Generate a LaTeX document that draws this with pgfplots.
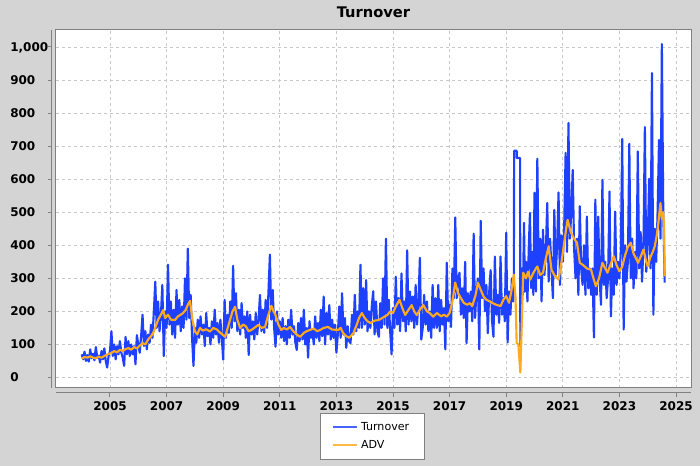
\documentclass[border=0pt]{standalone}
\usepackage{fontspec}
\setmainfont{DejaVu Sans}
\usepackage{pgfplots}
\pgfplotsset{compat=1.18}
\definecolor{bg}{RGB}{212,212,212}
\definecolor{tblue}{RGB}{30,64,255}
\definecolor{lblue}{RGB}{70,100,255}
\definecolor{advor}{RGB}{255,170,30}
\definecolor{lor}{RGB}{255,185,70}
\definecolor{axgray}{RGB}{128,128,128}
\definecolor{gridc}{RGB}{200,200,200}
\begin{document}
\begin{tikzpicture}
\fill[bg] (-42pt,-58.5pt) rectangle (483pt,291pt);
\begin{axis}[
  at={(0pt,0pt)}, anchor=south west,
  scale only axis, width=476.25pt, height=268.5pt,
  xmin=2003.092, xmax=2025.53, ymin=-31.8, ymax=1051.4,
  axis background/.style={fill=white},
  axis line style={axgray, line width=0.75pt},
  xtick={2005,2007,2009,2011,2013,2015,2017,2019,2021,2023,2025},
  ytick={0,100,200,300,400,500,600,700,800,900,1000},
  grid=major,
  major grid style={gridc, dash pattern=on 2.5pt off 2pt, line width=0.6pt},
  major tick length=0pt, tick style={draw=none},
  /pgf/number format/assume math mode=true,
  xticklabel style={font=\bfseries\fontsize{9}{10}\selectfont, anchor=north, inner sep=0pt, yshift=-9.75pt, /pgf/number format/1000 sep={}},
  yticklabel style={font=\bfseries\fontsize{9}{10}\selectfont, anchor=west, inner sep=0pt, xshift=-34.5pt, text depth=0pt, /pgf/number format/1000 sep={,}},
  title={Turnover},
  title style={font=\bfseries\fontsize{11}{13}\selectfont, at={(0.5,1)}, anchor=center, yshift=7.5pt, inner sep=0pt},
  legend style={at={(0.498,-0.0698)}, anchor=north, draw=axgray, fill=white, line width=0.5pt,
    font=\fontsize{8.3}{10}\selectfont, inner xsep=9.5pt, inner ysep=5pt, row sep=1.5pt,
    cells={anchor=west}, /tikz/every even column/.append style={column sep=4pt}},
  clip=false,
]
\addplot[tblue, line width=1.6pt, line join=round, legend image code/.code={\draw[lblue, line width=1.3pt] (0pt,0.4pt) -- (18pt,0.4pt);}] coordinates {
(2004.00,70) (2004.05,55) (2004.10,78) (2004.15,50) (2004.20,68) (2004.25,48) (2004.30,85) (2004.35,58) (2004.40,72) (2004.45,52) (2004.50,92) (2004.55,60) (2004.60,66) (2004.65,45) (2004.70,80) (2004.75,55) (2004.80,88) (2004.85,50) (2004.90,30) (2004.95,65)
(2005.00,80) (2005.05,140) (2005.10,65) (2005.15,100) (2005.20,55) (2005.25,95) (2005.30,70) (2005.35,110) (2005.40,75) (2005.45,60) (2005.50,35) (2005.55,123) (2005.60,70) (2005.65,110) (2005.70,65) (2005.75,100) (2005.80,70) (2005.85,95) (2005.90,40) (2005.95,128)
(2006.00,100) (2006.05,75) (2006.10,125) (2006.15,190) (2006.20,95) (2006.25,140) (2006.30,85) (2006.35,130) (2006.40,105) (2006.45,160) (2006.50,120) (2006.55,200) (2006.60,290) (2006.65,150) (2006.70,230) (2006.75,140) (2006.80,190) (2006.85,280) (2006.90,65) (2006.95,200)
(2007.00,150) (2007.05,341) (2007.10,160) (2007.15,230) (2007.20,130) (2007.25,205) (2007.30,120) (2007.35,265) (2007.40,160) (2007.45,235) (2007.50,140) (2007.55,215) (2007.60,150) (2007.65,300) (2007.70,175) (2007.75,390) (2007.80,180) (2007.85,250) (2007.90,120) (2007.95,35)
(2008.00,150) (2008.05,105) (2008.10,175) (2008.15,120) (2008.20,185) (2008.25,130) (2008.30,160) (2008.35,95) (2008.40,195) (2008.45,125) (2008.50,150) (2008.55,100) (2008.60,170) (2008.65,120) (2008.70,205) (2008.75,130) (2008.80,165) (2008.85,105) (2008.90,175) (2008.95,120)
(2009.00,54) (2009.05,235) (2009.10,120) (2009.15,190) (2009.20,135) (2009.25,230) (2009.30,150) (2009.35,338) (2009.40,170) (2009.45,255) (2009.50,140) (2009.55,205) (2009.60,130) (2009.65,225) (2009.70,150) (2009.75,185) (2009.80,120) (2009.85,200) (2009.90,68) (2009.95,190)
(2010.00,130) (2010.05,170) (2010.10,115) (2010.15,195) (2010.20,130) (2010.25,175) (2010.30,250) (2010.35,140) (2010.40,205) (2010.45,135) (2010.50,235) (2010.55,150) (2010.60,260) (2010.65,372) (2010.70,175) (2010.75,265) (2010.80,150) (2010.85,93) (2010.90,200) (2010.95,130)
(2011.00,170) (2011.05,120) (2011.10,180) (2011.15,110) (2011.20,155) (2011.25,100) (2011.30,175) (2011.35,120) (2011.40,205) (2011.45,130) (2011.50,155) (2011.55,105) (2011.60,83) (2011.65,165) (2011.70,110) (2011.75,180) (2011.80,115) (2011.85,205) (2011.90,100) (2011.95,150)
(2012.00,60) (2012.05,170) (2012.10,120) (2012.15,145) (2012.20,100) (2012.25,185) (2012.30,120) (2012.35,165) (2012.40,110) (2012.45,205) (2012.50,125) (2012.55,245) (2012.60,100) (2012.65,195) (2012.70,130) (2012.75,219) (2012.80,115) (2012.85,175) (2012.90,120) (2012.95,160)
(2013.00,75) (2013.05,130) (2013.10,215) (2013.15,120) (2013.20,255) (2013.25,130) (2013.30,180) (2013.35,90) (2013.40,155) (2013.45,110) (2013.50,104) (2013.55,190) (2013.60,130) (2013.65,250) (2013.70,140) (2013.75,200) (2013.80,150) (2013.85,341) (2013.90,150) (2013.95,270)
(2014.00,160) (2014.05,295) (2014.10,140) (2014.15,200) (2014.20,150) (2014.25,215) (2014.30,261) (2014.35,130) (2014.40,230) (2014.45,140) (2014.50,123) (2014.55,225) (2014.60,150) (2014.65,300) (2014.70,160) (2014.75,420) (2014.80,150) (2014.85,235) (2014.90,140) (2014.95,70)
(2015.00,210) (2015.05,150) (2015.10,305) (2015.15,160) (2015.20,240) (2015.25,140) (2015.30,315) (2015.35,170) (2015.40,230) (2015.45,140) (2015.50,385) (2015.55,160) (2015.60,260) (2015.65,170) (2015.70,245) (2015.75,150) (2015.80,280) (2015.85,160) (2015.90,230) (2015.95,362)
(2016.00,115) (2016.05,150) (2016.10,250) (2016.15,160) (2016.20,230) (2016.25,140) (2016.30,200) (2016.35,120) (2016.40,280) (2016.45,150) (2016.50,240) (2016.55,150) (2016.60,280) (2016.65,140) (2016.70,235) (2016.75,160) (2016.80,210) (2016.85,85) (2016.90,347) (2016.95,170)
(2017.00,220) (2017.05,153) (2017.10,330) (2017.15,240) (2017.20,484) (2017.25,240) (2017.30,300) (2017.35,317) (2017.40,190) (2017.45,270) (2017.50,180) (2017.55,350) (2017.60,104) (2017.65,255) (2017.70,200) (2017.75,260) (2017.80,170) (2017.85,435) (2017.90,180) (2017.95,260)
(2018.00,300) (2018.05,85) (2018.10,474) (2018.15,240) (2018.20,330) (2018.25,200) (2018.30,280) (2018.35,134) (2018.40,260) (2018.45,325) (2018.50,170) (2018.55,123) (2018.60,366) (2018.65,190) (2018.70,250) (2018.75,165) (2018.80,366) (2018.85,190) (2018.90,240) (2018.95,170)
(2019.00,438) (2019.05,106) (2019.10,260) (2019.15,190) (2019.20,300) (2019.25,230) (2019.27,300) (2019.28,686) (2019.37,686) (2019.375,664) (2019.49,664) (2019.50,95) (2019.53,200) (2019.56,330) (2019.59,250) (2019.63,468) (2019.66,260) (2019.70,350) (2019.75,230) (2019.80,400) (2019.84,498) (2019.88,270) (2019.92,380) (2019.96,250)
(2020.00,559) (2020.05,260) (2020.10,662) (2020.15,300) (2020.20,420) (2020.25,230) (2020.30,447) (2020.35,310) (2020.40,380) (2020.45,528) (2020.50,290) (2020.55,420) (2020.60,330) (2020.65,240) (2020.70,507) (2020.75,310) (2020.80,400) (2020.85,560) (2020.90,280) (2020.95,430)
(2021.00,350) (2021.05,460) (2021.10,680) (2021.15,380) (2021.20,770) (2021.25,420) (2021.30,500) (2021.35,628) (2021.40,390) (2021.45,300) (2021.50,420) (2021.55,250) (2021.60,518) (2021.65,330) (2021.70,280) (2021.75,400) (2021.80,250) (2021.85,487) (2021.90,270) (2021.95,330)
(2022.00,250) (2022.05,330) (2022.10,121) (2022.15,538) (2022.20,250) (2022.25,487) (2022.30,300) (2022.35,220) (2022.40,598) (2022.45,280) (2022.50,350) (2022.55,240) (2022.60,300) (2022.65,563) (2022.70,185) (2022.75,330) (2022.80,250) (2022.85,502) (2022.90,280) (2022.95,350)
(2023.00,300) (2023.05,380) (2023.10,722) (2023.15,145) (2023.20,400) (2023.25,290) (2023.30,350) (2023.35,707) (2023.40,300) (2023.45,420) (2023.50,270) (2023.55,380) (2023.60,300) (2023.65,684) (2023.70,330) (2023.75,440) (2023.80,290) (2023.85,400) (2023.90,758) (2023.95,320)
(2024.00,400) (2024.05,601) (2024.10,330) (2024.15,921) (2024.20,190) (2024.25,450) (2024.30,350) (2024.35,500) (2024.40,719) (2024.45,420) (2024.50,1009) (2024.55,500) (2024.60,287)
};
\addlegendentry{Turnover}
\addplot[advor, line width=1.6pt, line join=round, legend image code/.code={\draw[lor, line width=1.3pt] (0pt,0pt) -- (18pt,0pt);}] coordinates {
(2004.00,57) (2004.10,62) (2004.20,60) (2004.30,64) (2004.40,60) (2004.50,58) (2004.60,63) (2004.70,60) (2004.80,65) (2004.93,71) (2005.05,74) (2005.15,80) (2005.25,76) (2005.35,84) (2005.45,80) (2005.55,86) (2005.65,89) (2005.75,84) (2005.85,92) (2005.95,88)
(2006.05,96) (2006.15,104) (2006.25,100) (2006.35,115) (2006.45,125) (2006.52,134) (2006.60,150) (2006.70,175) (2006.80,190) (2006.88,204) (2006.95,180) (2007.05,190) (2007.15,175) (2007.30,174) (2007.40,185) (2007.50,190) (2007.58,195) (2007.68,205) (2007.76,222) (2007.83,232) (2007.90,180)
(2008.00,140) (2008.08,130) (2008.18,150) (2008.28,142) (2008.40,146) (2008.53,139) (2008.65,150) (2008.78,145) (2008.90,135) (2009.00,128) (2009.07,123) (2009.16,150) (2009.24,174) (2009.33,200) (2009.42,214) (2009.50,175) (2009.60,150) (2009.70,160) (2009.80,155) (2009.90,140)
(2010.00,144) (2010.10,150) (2010.24,159) (2010.36,150) (2010.48,153) (2010.58,185) (2010.70,217) (2010.78,200) (2010.85,189) (2010.95,160) (2011.05,144) (2011.15,150) (2011.25,145) (2011.36,153) (2011.48,140) (2011.60,130) (2011.72,123) (2011.85,135) (2011.95,140)
(2012.07,144) (2012.20,148) (2012.32,140) (2012.43,144) (2012.55,150) (2012.70,153) (2012.85,145) (2013.07,144) (2013.15,150) (2013.24,134) (2013.35,125) (2013.45,120) (2013.60,134) (2013.72,160) (2013.80,180) (2013.90,195)
(2014.00,180) (2014.10,170) (2014.20,165) (2014.35,172) (2014.50,174) (2014.62,180) (2014.80,189) (2014.90,200) (2015.00,195) (2015.10,215) (2015.23,235) (2015.33,210) (2015.43,189) (2015.55,205) (2015.66,219) (2015.75,200) (2015.84,189) (2015.95,205)
(2016.07,219) (2016.20,200) (2016.30,195) (2016.42,184) (2016.55,195) (2016.70,185) (2016.80,190) (2016.90,184) (2017.00,195) (2017.10,230) (2017.20,287) (2017.30,255) (2017.40,240) (2017.50,226) (2017.62,220) (2017.72,225) (2017.80,216) (2017.92,250)
(2018.00,287) (2018.10,265) (2018.20,245) (2018.30,235) (2018.40,231) (2018.52,225) (2018.65,220) (2018.80,216) (2018.90,235) (2019.00,246) (2019.10,226) (2019.18,260) (2019.27,311) (2019.33,240) (2019.37,104) (2019.43,100) (2019.50,15) (2019.55,160) (2019.60,317) (2019.70,300) (2019.77,320) (2019.85,296) (2019.95,315)
(2020.05,330) (2020.10,336) (2020.20,310) (2020.30,317) (2020.40,360) (2020.50,397) (2020.60,326) (2020.70,310) (2020.85,296) (2020.95,347) (2021.05,408) (2021.12,450) (2021.17,477) (2021.28,440) (2021.40,420) (2021.50,408) (2021.60,347) (2021.72,340) (2021.85,330)
(2022.00,326) (2022.10,295) (2022.17,276) (2022.28,300) (2022.40,347) (2022.50,330) (2022.58,317) (2022.70,345) (2022.80,367) (2022.90,340) (2023.00,321) (2023.10,335) (2023.20,370) (2023.30,395) (2023.40,408) (2023.50,375) (2023.66,347) (2023.75,365) (2023.85,387) (2023.95,350)
(2024.00,336) (2024.10,365) (2024.18,380) (2024.25,397) (2024.32,430) (2024.38,470) (2024.45,528) (2024.50,480) (2024.55,500) (2024.58,450) (2024.60,306)
};
\addlegendentry{ADV}
\draw[axgray, line width=0.75pt] ([xshift=-3pt]rel axis cs:0,0) -- ([xshift=-3pt]rel axis cs:0,1);
\draw[axgray, line width=0.75pt] ([yshift=-3.75pt]rel axis cs:0,0) -- ([yshift=-3.75pt]rel axis cs:1,0);
\pgfplotsinvokeforeach{0,100,200,300,400,500,600,700,800,900,1000}{
  \draw[axgray, line width=0.75pt] ([xshift=-3pt]axis cs:2003.092,#1) -- ([xshift=-6pt]axis cs:2003.092,#1);
}
\pgfplotsinvokeforeach{2005,2007,2009,2011,2013,2015,2017,2019,2021,2023,2025}{
  \draw[axgray, line width=0.75pt] ([yshift=-3.75pt]axis cs:#1,-31.8) -- ([yshift=-6.75pt]axis cs:#1,-31.8);
}
\end{axis}
\end{tikzpicture}
\end{document}
